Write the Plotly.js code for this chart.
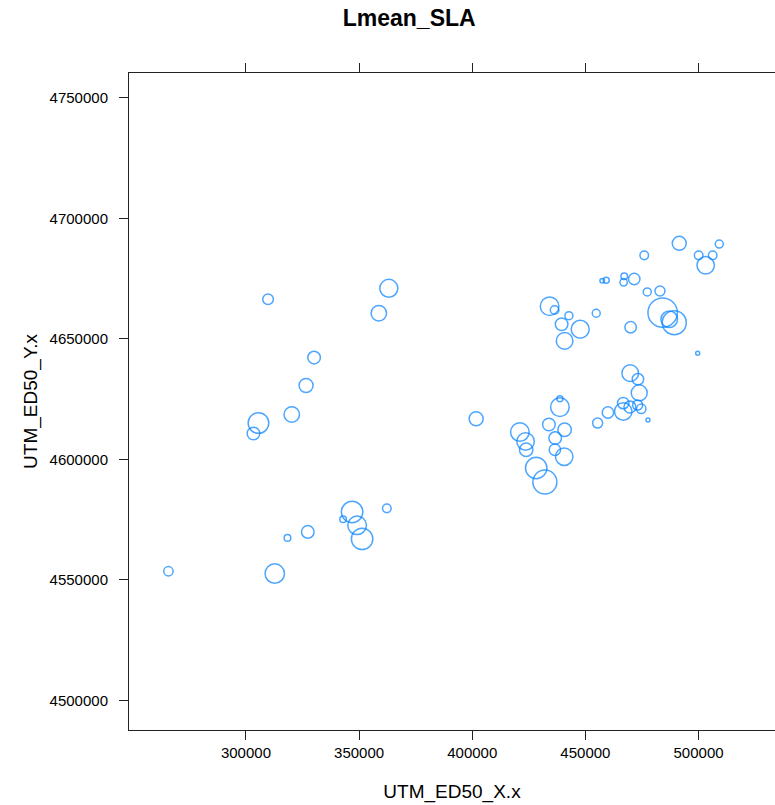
<!DOCTYPE html>
<html>
<head>
<meta charset="utf-8">
<script src="https://cdn.plot.ly/plotly-3.0.1.min.js"></script>
<style>html,body{margin:0;padding:0;background:#fff;}#chart{width:775px;height:805px;}</style>
</head>
<body>
<div id="chart"></div>
<script>
// UTM coordinates of the sites
const utmX = [309770,363132,358711,330107,326570,320248,305526,303316,265737,312732,318347,327322,342928,346907,349117,351328,362248,491474,509158,500050,506240,503145,476000,457432,459200,467158,466893,471579,477326,482941,484135,487053,489264,469987,454779,434177,436388,442710,439483,447706,440809,499608,469811,473215,473790,466716,469678,473082,466716,474674,477636,459952,455398,438731,438731,401727,433868,440809,421047,423567,423832,436653,436520,440632,428253,432099];
const utmY = [4666457,4671015,4660655,4642256,4630653,4618635,4615071,4610762,4553574,4552621,4567415,4569902,4575123,4578190,4572637,4567000,4579682,4689663,4689373,4684691,4684691,4680547,4684691,4674165,4674331,4675988,4673502,4674869,4669482,4669896,4660904,4658169,4656760,4654854,4660655,4663556,4662023,4659661,4656097,4654025,4649176,4644079,4635791,4633305,4627628,4623359,4621702,4622531,4619878,4620997,4616315,4619464,4615071,4625141,4621702,4616853,4614491,4612295,4611342,4607446,4604007,4608855,4604007,4601106,4596423,4590622];
// Lmean_SLA (relative bubble magnitude)
const lmeanSLA = [5.3,9,7.7,6.3,7,7.7,10.3,6.3,4.7,9.7,3.3,6.3,3.3,10.7,9.3,10.7,4.3,7,4,4.3,4.3,8.7,4.3,2.3,3,3.3,3.7,5.7,4,5,14.7,8.3,12,5.7,4,9.3,4.3,4,6.3,9,8.3,2,8.3,5.7,8,5.7,6,5,8.7,4.7,2,5.7,5,3,9.3,7,6.3,6.7,9.3,8.7,6.7,6.3,5.7,8.7,10.7,12];
const xTicks = [300000,350000,400000,450000,500000];
const yTicks = [4500000,4550000,4600000,4650000,4700000,4750000];

const sizeScale = 2;
const trace = {
  type: 'scatter',
  mode: 'markers',
  x: utmX,
  y: utmY,
  marker: {
    symbol: 'circle-open',
    size: lmeanSLA.map(v => v * sizeScale),
    color: '#0080ff',
    line: {width: 1.5, color: '#0080ff'}
  },
  hoverinfo: 'x+y'
};

const tickFont = {family: 'Liberation Sans, Arial, sans-serif', size: 15, color: '#000'};
const layout = {
  width: 775,
  height: 805,
  margin: {l: 129, r: 0, t: 73, b: 75, pad: 0},
  paper_bgcolor: '#fff',
  plot_bgcolor: '#fff',
  showlegend: false,
  title: {
    text: '<b>Lmean_SLA</b>',
    font: {family: 'Liberation Sans, Arial, sans-serif', size: 23, color: '#000'},
    x: 0.528, xanchor: 'center', xref: 'container',
    y: 0.978, yanchor: 'middle', yref: 'container'
  },
  xaxis: {
    range: [248317, 533782],
    tickvals: xTicks,
    ticktext: xTicks.map(String),
    ticks: 'outside', ticklen: 9, tickwidth: 1, tickcolor: '#222',
    showline: true, linecolor: '#222', linewidth: 1, mirror: 'ticks',
    showgrid: false, zeroline: false,
    tickfont: tickFont,
    title: {text: 'UTM_ED50_X.x', font: {family: 'Liberation Sans, Arial, sans-serif', size: 19, color: '#000'}, standoff: 24}
  },
  yaxis: {
    range: [4487679, 4760372],
    tickvals: yTicks,
    ticktext: yTicks.map(String),
    ticks: 'outside', ticklen: 9, tickwidth: 1, tickcolor: '#222',
    showline: true, linecolor: '#222', linewidth: 1, mirror: false,
    showgrid: false, zeroline: false,
    tickfont: tickFont,
    ticklabelstandoff: 8,
    title: {text: 'UTM_ED50_Y.x', font: {family: 'Liberation Sans, Arial, sans-serif', size: 19, color: '#000'}, standoff: 6}
  }
};

Plotly.newPlot('chart', [trace], layout, {displayModeBar: false, staticPlot: true});
</script>
</body>
</html>
